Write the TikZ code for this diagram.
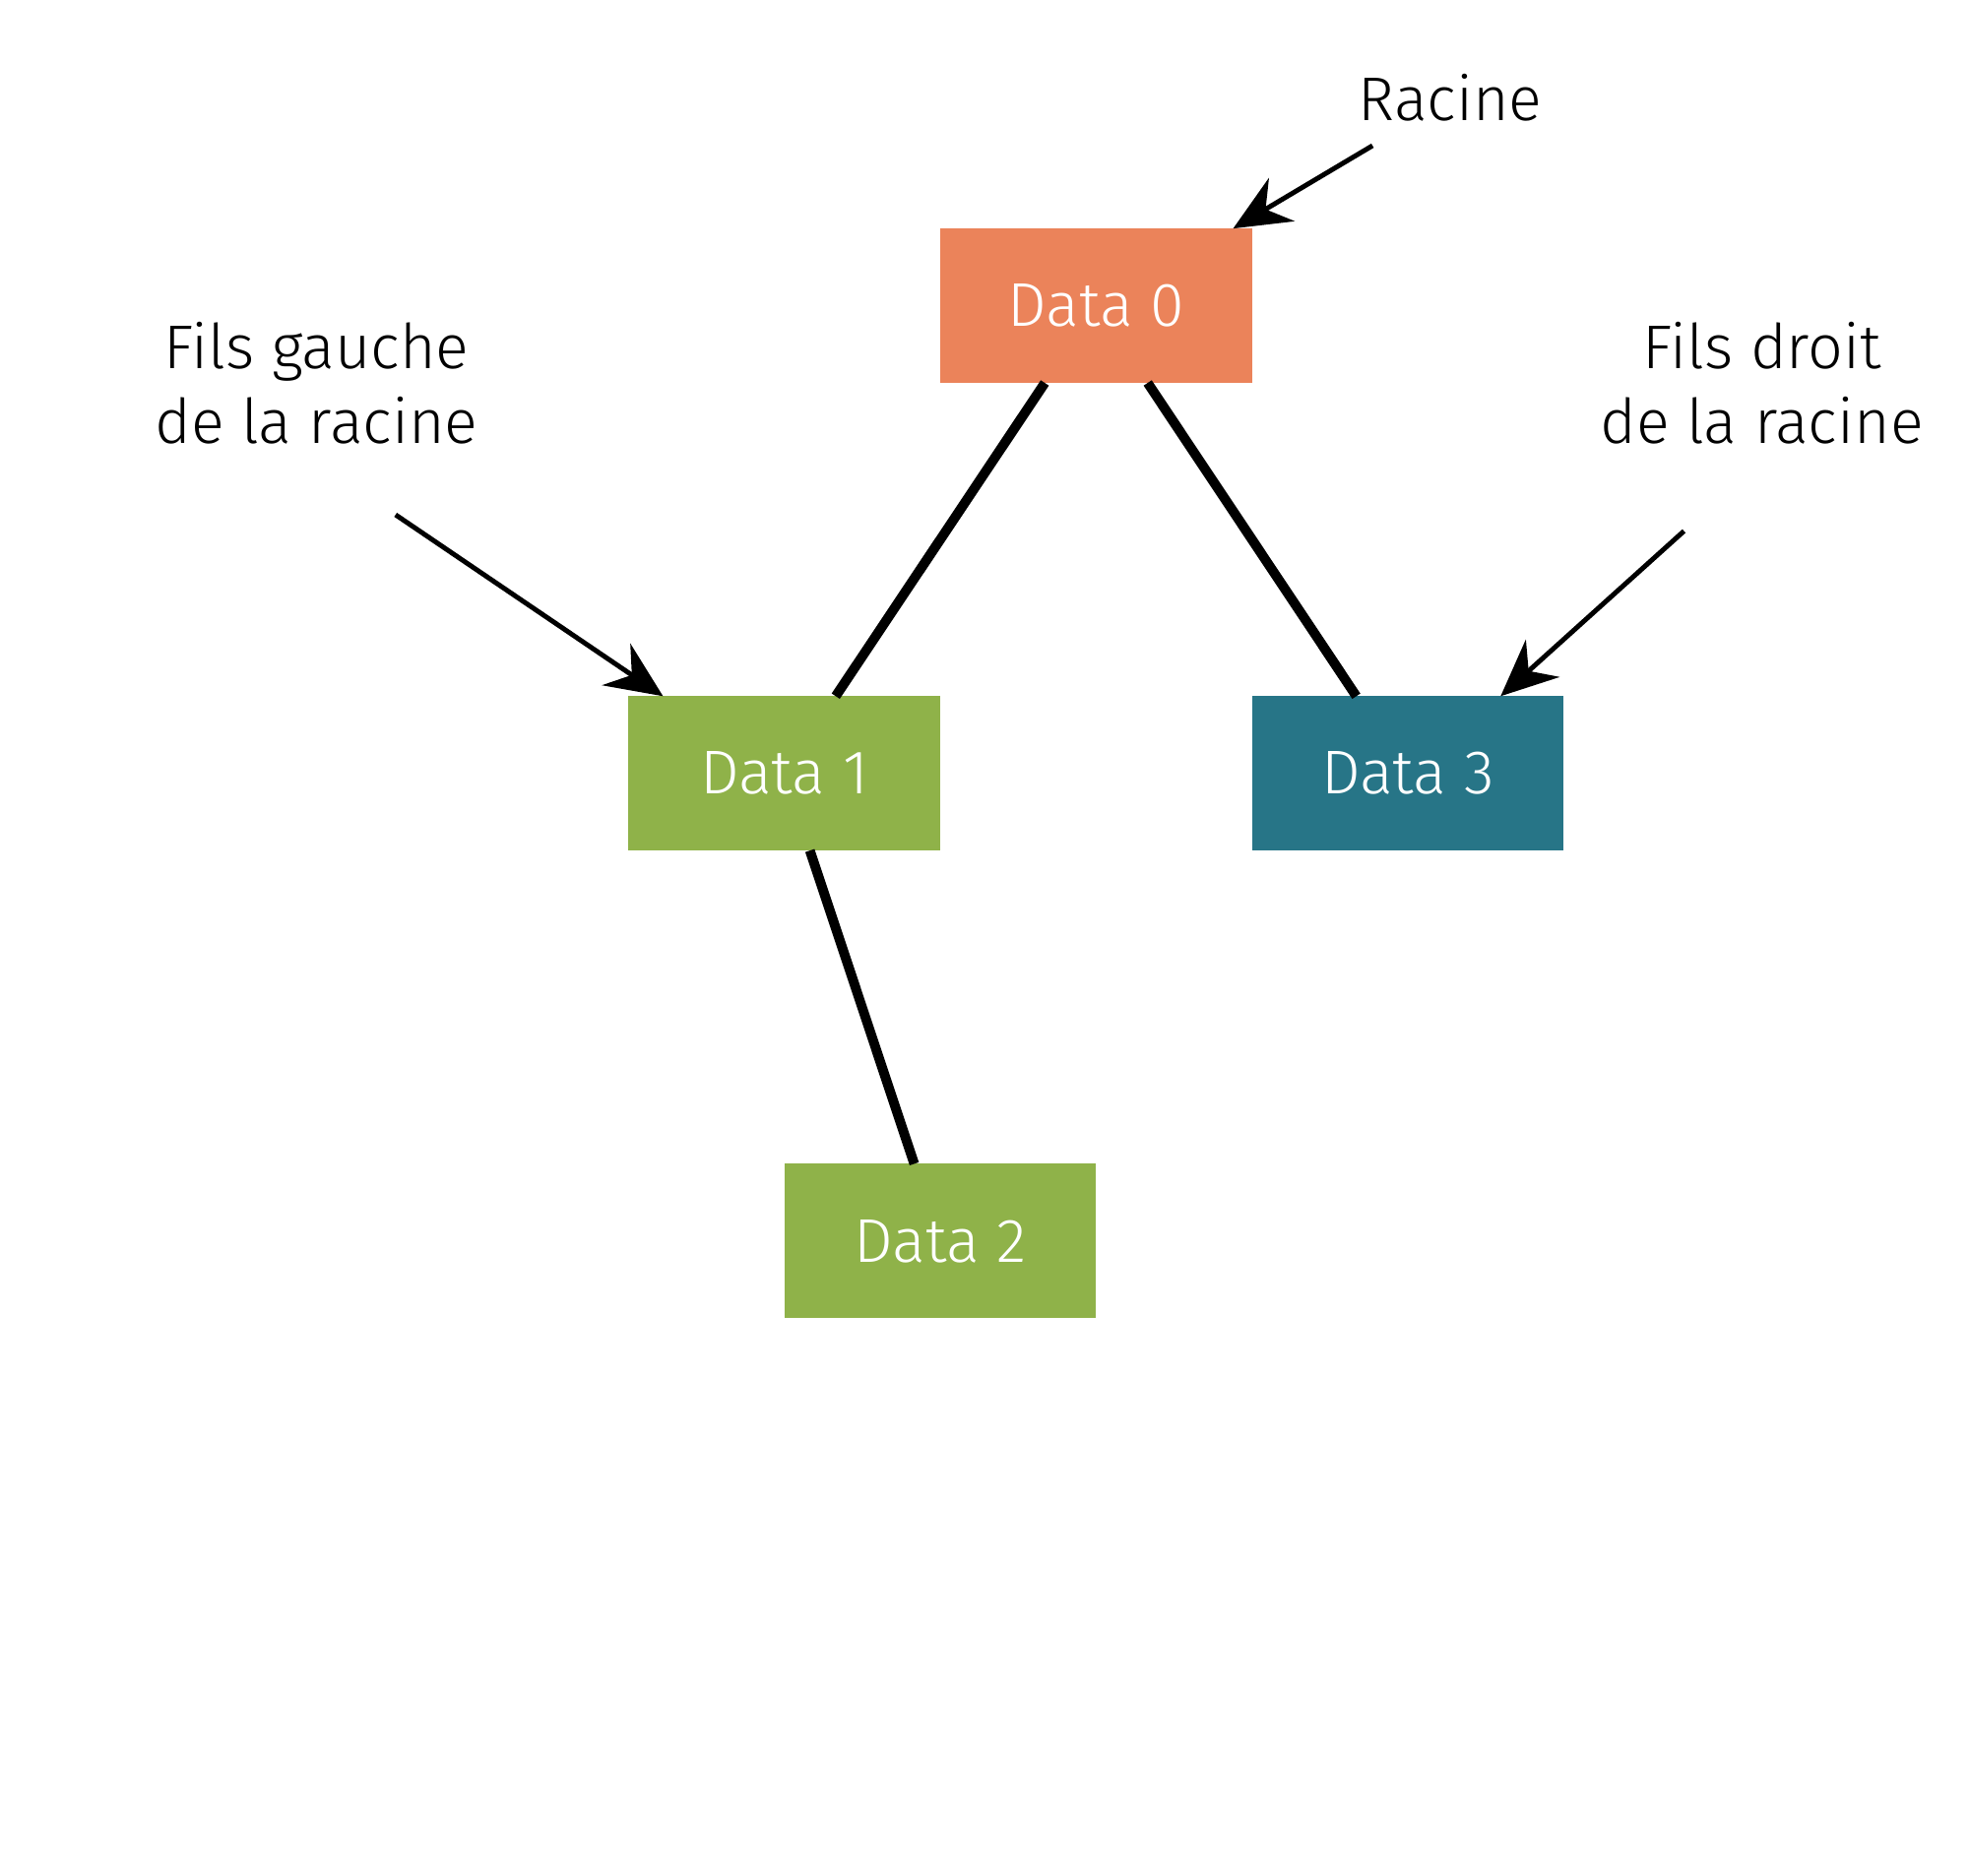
\documentclass[tikz,border=0pt]{standalone}
\usepackage{fontspec}
\setmainfont{Fira Sans}[UprightFont=* Light]
\usetikzlibrary{arrows.meta}
\definecolor{racine}{RGB}{235,131,90}
\definecolor{vert}{RGB}{143,178,73}
\definecolor{bleu}{RGB}{39,117,135}
\begin{document}
\begin{tikzpicture}[box/.style = {fill=#1, text=white, minimum width=2.48cm, minimum height=1.23cm, inner sep=0pt, outer sep=0pt, font=\fontsize{14}{17}\selectfont}, lien/.style = {line width=2.2pt}, fleche/.style = {line width=1.1pt, -{Stealth[length=4.5mm, width=4mm, inset=1.5mm]}}, note/.style = {align=center, font=\fontsize{14}{17}\selectfont}] 
\useasboundingbox (0,0) rectangle (15.68,-14.94);

\node[box=racine] (0) at (8.73,-2.435) {Data 0}; 
\node[box=vert] (1) at (6.245,-6.16) {Data 1}; 
\node[box=bleu] (3) at (11.21,-6.16) {Data 3}; 
\node[box=vert] (2) at (7.485,-9.885) {Data 2}; 

\node[note] (r) at (11.55,-0.78) {Racine}; 
\node[note] (g) at (2.52,-3.05) {Fils gauche\\de la racine}; 
\node[note] (d) at (14.03,-3.05) {Fils droit\\de la racine}; 

\coordinate (r0) at (10.93,-1.16); 
\coordinate (g0) at (3.15,-4.10); 
\coordinate (d0) at (13.41,-4.23); 

\draw[lien] (0) -- (1); 
\draw[lien] (0) -- (3); 
\draw[lien] (1) -- (2); 

\draw[fleche] (r0) -- ([xshift=-1.5mm]0.north east); 
\draw[fleche] (g0) -- ([xshift=-9.65mm]1.north); 
\draw[fleche] (d0) -- ([xshift=7.4mm]3.north); 

\end{tikzpicture}
\end{document}
